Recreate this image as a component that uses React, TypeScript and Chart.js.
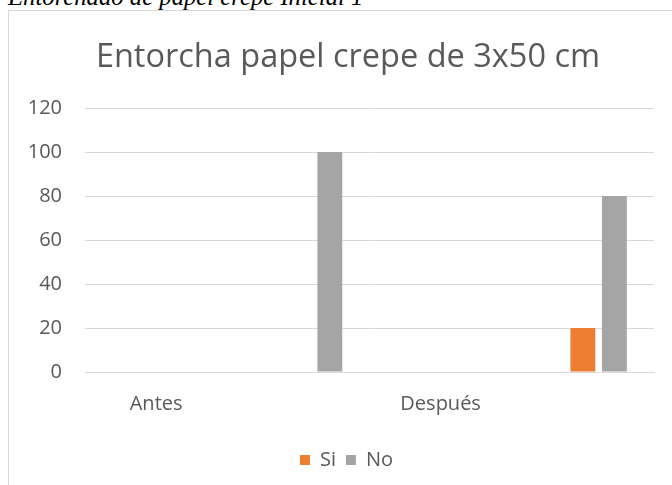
import React, { useEffect, useRef } from "react";
import { Chart, registerables } from "chart.js";

Chart.register(...registerables);

const categories = ["Antes", "", "Después", ""];
const spacerValues = [0, 0, 0, 0];
const siValues = [0, 0, 0, 20];
const noValues = [0, 100, 0, 80];
const yTicks = [0, 20, 40, 60, 80, 100, 120];

const TEXT = "#595959";
const GRID = "#D9D9D9";
const FONT = "'Open Sans', sans-serif";

// The original chart frame is wider than the visible window, so its title and
// legend are centred a little to the right of the plot's centre.
const centreShift = {
  id: "centreShift",
  afterLayout(chart: any) {
    if (chart.titleBlock) chart.titleBlock.left += 33;
    if (chart.legend) {
      chart.legend.left += 15;
      chart.legend.right += 15;
    }
  },
};

export default function App() {
  const ref = useRef<HTMLCanvasElement | null>(null);

  useEffect(() => {
    if (!ref.current) return;
    const chart = new Chart(ref.current, {
      type: "bar",
      data: {
        labels: categories,
        datasets: [
          { label: "", data: spacerValues, backgroundColor: "rgba(0,0,0,0)" },
          { label: "Si", data: siValues, backgroundColor: "#ED7D31" },
          { label: "No", data: noValues, backgroundColor: "#A5A5A5" },
        ],
      },
      plugins: [centreShift],
      options: {
        animation: false,
        responsive: true,
        maintainAspectRatio: false,
        layout: { padding: { left: 0, right: 18, top: 0, bottom: 5 } },
        datasets: { bar: { categoryPercentage: 0.664, barPercentage: 0.79 } },
        plugins: {
          title: {
            display: true,
            text: "Entorcha papel crepe de 3x50 cm",
            color: TEXT,
            font: { family: FONT, size: 32.5, weight: "normal" },
            padding: { top: 27, bottom: 31 },
          },
          legend: {
            position: "bottom",
            labels: {
              color: TEXT,
              font: { family: FONT, size: 20 },
              boxWidth: 10,
              boxHeight: 10,
              padding: 10,
              filter: (item: any) => item.text !== "",
            },
          },
          tooltip: { enabled: false },
        },
        scales: {
          x: {
            grid: { display: false, drawTicks: false },
            border: { display: true, color: GRID },
            ticks: {
              color: TEXT,
              font: { family: FONT, size: 20 },
              padding: 20,
              autoSkip: false,
              maxRotation: 0,
            },
            afterFit: (scale: any) => {
              scale.height = 68;
            },
          },
          y: {
            min: 0,
            max: 120,
            grid: { color: GRID, drawTicks: false },
            border: { display: false },
            afterBuildTicks: (scale: any) => {
              scale.ticks = yTicks.map((v) => ({ value: v }));
            },
            ticks: {
              color: TEXT,
              font: { family: FONT, size: 20 },
              padding: 23,
              stepSize: 20,
            },
            afterFit: (scale: any) => {
              scale.width = 76;
            },
          },
        },
      },
    });
    return () => chart.destroy();
  }, []);

  return (
    <div
      style={{
        position: "fixed",
        left: 0,
        top: 0,
        width: 672,
        height: 485,
        overflow: "hidden",
        background: "#fff",
      }}
    >
      <div
        style={{
          position: "absolute",
          left: 8,
          top: -15,
          fontFamily: "'Liberation Serif', 'Times New Roman', serif",
          fontStyle: "italic",
          fontSize: 24.7,
          lineHeight: "24.7px",
          whiteSpace: "nowrap",
          color: "#000",
        }}
      >
        Entorchado de papel crepe Inicial 1
      </div>
      <div
        style={{
          position: "absolute",
          left: 8,
          top: 10,
          width: 700,
          height: 500,
          border: `1px solid ${GRID}`,
          boxSizing: "border-box",
        }}
      />
      <div style={{ position: "absolute", left: 9, top: 11, width: 663, height: 474 }}>
        <canvas ref={ref} />
      </div>
    </div>
  );
}
